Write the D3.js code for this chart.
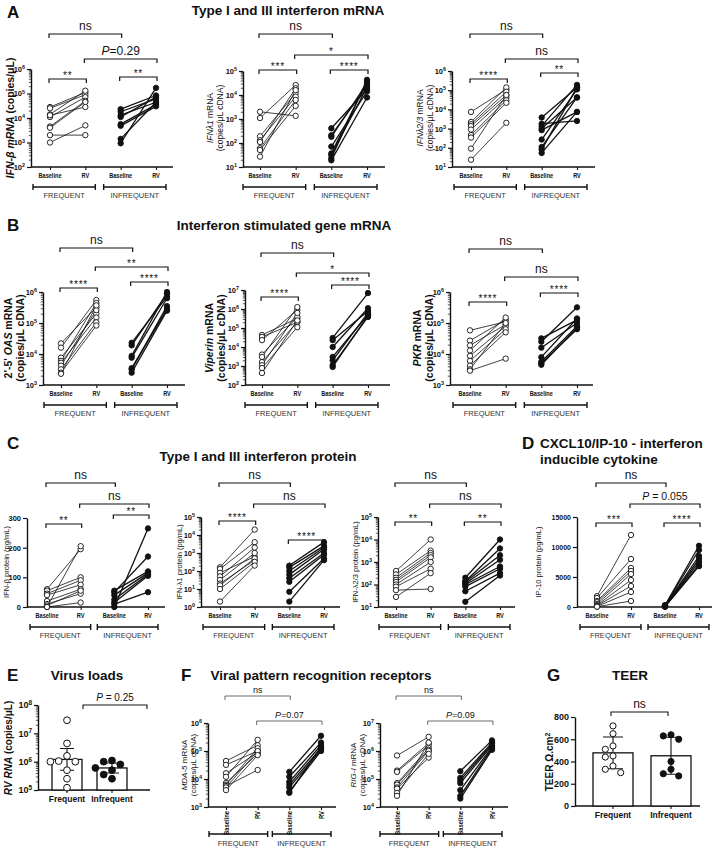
<!DOCTYPE html>
<html><head><meta charset="utf-8">
<script src="https://cdn.jsdelivr.net/npm/d3@7"></script>
<style>body{margin:0;background:#fff}svg{font-family:"Liberation Sans",Arial,sans-serif}</style>
</head><body><svg id="chart" width="716" height="851"></svg>
<script>
// ================= DATA =================
const categories = ["Baseline", "RV", "Baseline", "RV"];
const groups = ["FREQUENT", "INFREQUENT"];
const barGroups = ["Frequent", "Infrequent"];

// A: Type I and III interferon mRNA
const ifnbFB = [2.8e4, 2.5e4, 1.4e4, 1.1e4, 4.5e3, 4.0e3, 2.0e3, 1.0e3, 1.3e4];
const ifnbFR = [1.1e5, 8.9e4, 1.3e5, 7.1e4, 5.0e4, 4.5e4, 2.0e3, 5.0e3, 2.8e4];
const ifnbIB = [2.3e4, 1.8e4, 1.3e4, 1.1e4, 5.6e3, 4.8e3, 1.4e3, 9.3e2];
const ifnbIR = [8.3e4, 6.0e4, 4.4e4, 7.1e4, 3.5e4, 3.0e4, 4.4e4, 1.7e5];
const ifnl1FB = [2.0e3, 1.1e3, 190, 130, 110, 60, 51, 27];
const ifnl1FR = [1.35e3, 2.6e4, 1.2e4, 8.5e3, 1.9e4, 6.2e3, 3.5e3, 1.6e4];
const ifnl1IB = [410, 210, 180, 71, 37, 32, 23, 19];
const ifnl1IR = [1.7e4, 2.4e4, 3.1e4, 1.4e4, 3.6e4, 2.1e4, 4.3e4, 7.9e3];
const ifnl23FB = [7.4e3, 2.2e3, 1.7e3, 1.35e3, 890, 460, 340, 91, 24];
const ifnl23FR = [1.1e5, 1.4e5, 8.3e4, 5.6e4, 4.2e4, 3.0e4, 2.2e4, 5.6e4, 2.0e3];
const ifnl23IB = [3.8e3, 1.8e3, 1.35e3, 1.0e3, 830, 270, 110, 81, 54];
const ifnl23IR = [1.4e5, 2.5e3, 1.9e5, 4.2e4, 7.4e3, 1.1e5, 4.2e4, 1.4e5, 7.4e3];

// B: Interferon stimulated gene mRNA
const oasFB = [2.2e4, 1.6e4, 7.6e3, 6.0e3, 5.2e3, 4.2e3, 3.2e3, 2.5e3, 2.3e3];
const oasFR = [3.2e5, 5.5e5, 2.0e5, 4.4e5, 1.5e5, 2.6e5, 1.05e5, 8.3e4, 3.7e5];
const oasIB = [2.3e4, 1.9e4, 8.7e3, 7.6e3, 3.5e3, 3.2e3, 2.5e3];
const oasIR = [7.1e5, 8.9e5, 1.0e6, 6.3e5, 2.8e5, 3.5e5, 2.5e5];
const viperinFB = [4.3e4, 3.4e4, 2.3e4, 4.0e3, 3.0e3, 1.6e3, 1.1e3, 780, 430];
const viperinFR = [3.2e5, 2.0e5, 8.9e5, 3.8e5, 1.26e6, 2.1e5, 6.2e5, 1.1e5, 2.5e5];
const viperinIB = [3.0e4, 2.3e4, 1.0e4, 3.0e3, 2.0e3, 1.1e3, 890];
const viperinIR = [6.9e6, 7.9e5, 1.1e6, 5.0e5, 6.3e5, 3.8e5, 4.5e5];
const pkrFB = [5.8e4, 2.7e4, 1.9e4, 1.3e4, 8.7e3, 6.0e3, 4.2e3, 3.2e3, 2.9e3];
const pkrFR = [1.1e5, 1.26e5, 8.9e4, 1.5e5, 7.9e4, 6.3e4, 5.0e4, 1.0e5, 7.1e3];
const pkrIB = [3.2e4, 2.5e4, 1.6e4, 7.9e3, 5.6e3, 5.0e3, 4.5e3];
const pkrIR = [1.26e5, 3.2e5, 1.0e5, 1.4e5, 7.9e4, 6.3e4, 7.1e4];

// C: Type I and III interferon protein
const ifnbProtFB = [60, 55, 45, 40, 20, 10, 5, 0, 0];
const ifnbProtFR = [195, 100, 90, 75, 60, 45, 55, 15, 205];
const ifnbProtIB = [55, 50, 40, 25, 15, 10, 0];
const ifnbProtIR = [120, 170, 115, 110, 105, 50, 265];
const ifnl1ProtFB = [160, 130, 79, 50, 32, 20, 16, 10, 2];
const ifnl1ProtFR = [2.0e4, 4.0e3, 630, 2.0e3, 1.0e3, 400, 500, 320, 200];
const ifnl1ProtIB = [200, 160, 100, 63, 40, 25, 7, 2];
const ifnl1ProtIR = [4.0e3, 2.5e3, 2.0e3, 1.6e3, 1.0e3, 800, 500, 400];
const ifnl23ProtFB = [400, 280, 200, 160, 130, 100, 80, 56, 28];
const ifnl23ProtFR = [1.0e4, 3.2e3, 2.5e3, 2.0e3, 1.6e3, 1.0e3, 500, 63, 320];
const ifnl23ProtIB = [200, 140, 130, 110, 100, 80, 50, 17];
const ifnl23ProtIR = [1.0e4, 4.0e3, 2.0e3, 1.26e3, 630, 500, 320, 250];
const c1Ticks = [0, 100, 200, 300];

// D: CXCL10/IP-10
const ip10FB = [1800, 1500, 1000, 800, 500, 300, 200, 100, 50];
const ip10FR = [12000, 8000, 6500, 6000, 5500, 4500, 3500, 2500, 1000];
const ip10IB = [300, 250, 200, 150, 100, 80, 50];
const ip10IR = [10200, 9500, 8500, 8000, 7500, 7000, 6800];
const dTicks = [0, 5000, 10000, 15000];

// E: Virus loads
const rvFrequent = [2.9e7, 4.4e6, 1.6e6, 1.05e6, 1.0e6, 1.0e6, 5.0e5, 2.5e5, 1.2e5];
const rvInfrequent = [1.1e6, 1.0e6, 8.0e5, 6.0e5, 5.0e5, 3.5e5, 2.5e5];
const rvBarMean = [1.2e6, 6.0e5];
const rvBarHi = [2.9e6, 9.0e5];
const rvBarLo = [5.0e5, 4.0e5];

// F: Viral pattern recognition receptors
const mda5FB = [4.4e4, 3.2e4, 1.6e4, 1.2e4, 7.2e3, 6.2e3, 5.6e3, 5.0e3, 4.0e3];
const mda5FR = [1.6e5, 1.0e5, 8.9e4, 2.5e5, 7.9e4, 1.26e5, 2.1e4, 1.0e5, 7.1e4];
const mda5IB = [1.8e4, 1.2e4, 7.9e3, 6.3e3, 5.0e3, 3.5e3, 3.2e3];
const mda5IR = [3.5e5, 2.0e5, 1.6e5, 1.26e5, 1.1e5, 1.0e5, 1.4e5];
const rigiFB = [6.9e5, 2.0e5, 1.8e5, 7.1e4, 6.3e4, 5.0e4, 4.5e4, 3.2e4, 2.5e4];
const rigiFR = [3.2e6, 1.9e6, 1.6e6, 1.26e6, 1.1e6, 1.0e6, 5.8e5, 7.9e5, 2.0e6];
const rigiIB = [1.9e5, 1.1e5, 8.9e4, 7.1e4, 4.0e4, 2.5e4, 2.0e4];
const rigiIR = [2.4e6, 2.0e6, 1.8e6, 1.6e6, 1.4e6, 1.26e6, 1.1e6];

// G: TEER
const teerFrequent = [720, 650, 510, 540, 450, 440, 360, 330, 300];
const teerInfrequent = [600, 630, 640, 400, 330, 290, 270];
const gTicks = [0, 200, 400, 600, 800];

// ================= DRAWING =================
const svg = d3.select("#chart");
const INK = "#111";

function txt(g, x, y, s, o = {}) {
  const t = g.append("text").attr("x", x).attr("y", y).text(s)
    .attr("font-size", o.size || 10).attr("font-weight", o.bold ? "bold" : "normal")
    .attr("text-anchor", o.anchor || "start").attr("fill", o.fill || INK);
  if (o.italic) t.attr("font-style", "italic");
  return t;
}
function rich(g, x, y, segs, o) {
  const t = g.append("text").attr("x", x).attr("y", y).attr("font-size", o.size)
    .attr("font-weight", o.bold ? "bold" : "normal").attr("text-anchor", o.anchor || "middle").attr("fill", o.fill || INK);
  segs.forEach(([s, it, sup]) => {
    const ts = t.append("tspan").text(s);
    if (it) ts.attr("font-style", "italic");
    if (sup) ts.attr("dy", "-0.45em").attr("font-size", "0.7em");
  });
  return t;
}
function rotLabel(g, cx, cy, lines, o) {
  const gg = g.append("g").attr("transform", `translate(${cx},${cy}) rotate(-90)`);
  lines.forEach((segs, i) => rich(gg, 0, i * (o.lh || 10), segs, o));
}
function bracket(g, x1, x2, y, label, o) {
  g.append("path").attr("d", `M${x1},${y + (o.tick || 4)}V${y}H${x2}V${y + (o.tick || 4)}`)
    .attr("fill", "none").attr("stroke", o.stroke || INK).attr("stroke-width", o.sw || 1.2);
  const t = g.append("text").attr("x", (x1 + x2) / 2).attr("y", y - o.gap).attr("text-anchor", "middle")
    .attr("font-size", o.size).attr("fill", INK);
  if (o.ls) t.attr("letter-spacing", o.ls);
  if (label.startsWith("P")) {
    t.append("tspan").attr("font-style", "italic").text("P");
    t.append("tspan").text(label.slice(1));
  } else t.text(label);
}
const BIG = { size: 12, gap: 4 };
const STAR = { size: 10, gap: 0.5, ls: 0.8 };

function yAxis(g, L, y) {
  if (L.log) {
    const lo = Math.round(Math.log10(L.domain[0])), hi = Math.round(Math.log10(L.domain[1]));
    const minors = [];
    for (let k = lo; k < hi; k++) for (let m = 2; m <= 9; m++) minors.push(m * Math.pow(10, k));
    g.append("g").attr("transform", `translate(${L.ax},0)`)
      .call(d3.axisLeft(y).tickValues(minors).tickSize(2.2).tickSizeOuter(0).tickFormat(() => ""))
      .call(s => s.select(".domain").remove())
      .selectAll(".tick line").attr("stroke", INK).attr("stroke-width", 0.7);
  }
  const majors = L.log ? d3.range(Math.round(Math.log10(L.domain[0])), Math.round(Math.log10(L.domain[1])) + 1).map(k => Math.pow(10, k)) : L.ticks;
  const ax = d3.axisLeft(y).tickValues(majors).tickSize(4).tickSizeOuter(0).tickPadding(2)
    .tickFormat(L.log ? () => "" : d => String(d));
  const ga = g.append("g").attr("transform", `translate(${L.ax},0)`).call(ax);
  ga.select(".domain").attr("stroke", INK).attr("stroke-width", 1.4);
  ga.selectAll(".tick line").attr("stroke", INK).attr("stroke-width", 1.2);
  ga.selectAll(".tick text").attr("font-size", L.tickSize || 7.5).attr("font-weight", "bold")
    .attr("font-family", '"Liberation Sans",Arial,sans-serif').attr("fill", INK);
  if (L.log) ga.selectAll(".tick text").each(function (d) {
    const t = d3.select(this); t.text("10");
    t.append("tspan").attr("dy", "-0.5em").attr("font-size", "0.72em").text(Math.round(Math.log10(d)));
  });
}

function pairedPanel(L, D) {
  const g = svg.append("g");
  const x = d3.scalePoint().domain(d3.range(4)).range([L.p0, L.p3]);
  const y = (L.log ? d3.scaleLog() : d3.scaleLinear()).domain(L.domain).range([L.yb, L.yt]);
  yAxis(g, L, y);
  g.append("line").attr("x1", L.ax).attr("x2", L.xe).attr("y1", L.yb).attr("y2", L.yb)
    .attr("stroke", INK).attr("stroke-width", 1.4);
  g.append("g").attr("transform", `translate(0,${L.yb})`)
    .call(d3.axisBottom(x).tickSize(3).tickSizeOuter(0).tickFormat(() => ""))
    .call(s => s.select(".domain").remove())
    .selectAll(".tick line").attr("stroke", INK).attr("stroke-width", 1.1);
  d3.range(4).forEach(i => {
    if (L.rot) {
      g.append("text").attr("transform", `translate(${x(i) + 2.5},${L.yb + 4}) rotate(-90) scale(0.78,1)`)
        .attr("text-anchor", "end").attr("font-size", 7.5).attr("font-weight", "bold").attr("fill", INK).text(categories[i]);
    } else {
      g.append("text").attr("transform", `translate(${x(i)},${L.yb + 11}) scale(0.75,1)`)
        .attr("text-anchor", "middle").attr("font-size", 7.5).attr("font-weight", "bold").attr("fill", INK).text(categories[i]);
    }
  });
  const bdy = L.rot ? 27 : 20, ldy = L.rot ? 39 : 31;
  [[0, 1], [2, 3]].forEach(([a, b], gi) => {
    const x1 = x(a) - 17, x2 = x(b) + 10, yy = L.yb + bdy;
    g.append("path").attr("d", `M${x1},${yy - 3}V${yy + 3}M${x1},${yy}H${x2}M${x2},${yy - 3}V${yy + 3}`)
      .attr("stroke", INK).attr("stroke-width", 1.4).attr("fill", "none");
    txt(g, (x1 + x2) / 2, L.yb + ldy, groups[gi], { size: 7.5, anchor: "middle", fill: "#333" });
  });
  const sets = [[0, 1, D.fb, D.fr, false], [2, 3, D.ib, D.ir, true]];
  sets.forEach(([i0, i1, a, b, filled]) => {
    g.append("g").selectAll("line").data(d3.range(a.length)).join("line")
      .attr("x1", x(i0)).attr("x2", x(i1)).attr("y1", k => y(a[k])).attr("y2", k => y(b[k]))
      .attr("stroke", INK).attr("stroke-width", filled ? 1.3 : 0.8);
  });
  sets.forEach(([i0, i1, a, b, filled]) => {
    [[i0, a], [i1, b]].forEach(([ci, arr]) => {
      g.append("g").selectAll("circle").data(arr).join("circle")
        .attr("cx", x(ci)).attr("cy", v => y(v)).attr("r", 2.7)
        .attr("fill", filled ? INK : "#fff").attr("stroke", INK).attr("stroke-width", 0.9);
    });
  });
  L.brackets.forEach(([i, j, yy, lab, st]) => bracket(g, x(i) - 1, x(j) + 1, yy, lab, st));
  rotLabel(g, L.lab.x, L.lab.y, L.lab.lines, L.lab.o);
}

const FB = { size: 9, gap: 3, sw: 0.8, stroke: "#444" };
const lab2 = (x, y, name, o) => ({ x, y, lines: [[[name, true], [" mRNA", false]], [["(copies/μL cDNA)", false]]], o });
const A_LAB = { size: 8.5, lh: 9.5 };
const B_LAB = { size: 10.5, lh: 12, bold: true };
const C_LAB = { size: 7.5, lh: 9 };
const F_LAB = { size: 8, lh: 9 };

// ---- Panel A ----
pairedPanel({ ax: 31, p0: 50, p3: 156, xe: 173, yb: 167, yt: 69, log: true, domain: [1e2, 1e6],
  brackets: [[0, 2, 34, "ns", BIG], [1, 3, 59, "P=0.29", BIG], [0, 1, 79, "**", STAR], [2, 3, 77, "**", STAR]],
  lab: { x: 14, y: 118, lines: [[["IFN-β mRNA", true], [" (copies/μL)", false]]], o: { size: 10.5, bold: true } } },
  { fb: ifnbFB, fr: ifnbFR, ib: ifnbIB, ir: ifnbIR });
pairedPanel({ ax: 243, p0: 260, p3: 367, xe: 385, yb: 167, yt: 71, log: true, domain: [1e1, 1e5],
  brackets: [[0, 2, 34, "ns", BIG], [1, 3, 55, "*", STAR], [0, 1, 70, "***", STAR], [2, 3, 70, "****", STAR]],
  lab: lab2(213, 118, "IFNλ1", A_LAB) },
  { fb: ifnl1FB, fr: ifnl1FR, ib: ifnl1IB, ir: ifnl1IR });
pairedPanel({ ax: 452, p0: 471, p3: 577, xe: 595, yb: 167, yt: 71, log: true, domain: [1e1, 1e6],
  brackets: [[0, 2, 34, "ns", BIG], [1, 3, 59, "ns", BIG], [0, 1, 79, "****", STAR], [2, 3, 73, "**", STAR]],
  lab: lab2(423, 118, "IFNλ2/3", A_LAB) },
  { fb: ifnl23FB, fr: ifnl23FR, ib: ifnl23IB, ir: ifnl23IR });

// ---- Panel B ----
pairedPanel({ ax: 43, p0: 61, p3: 167, xe: 185, yb: 385, yt: 292, log: true, domain: [1e3, 1e6],
  brackets: [[0, 2, 248, "ns", BIG], [1, 3, 267, "**", STAR], [0, 1, 288, "****", STAR], [2, 3, 282, "****", STAR]],
  lab: { x: 12, y: 338, lines: [[["2'-5' ", false], ["OAS", true], [" mRNA", false]], [["(copies/μL cDNA)", false]]], o: B_LAB } },
  { fb: oasFB, fr: oasFR, ib: oasIB, ir: oasIR });
pairedPanel({ ax: 245, p0: 262, p3: 368, xe: 390, yb: 385, yt: 290, log: true, domain: [1e2, 1e7],
  brackets: [[0, 2, 253, "ns", BIG], [1, 3, 273, "*", STAR], [0, 1, 297, "****", STAR], [2, 3, 285, "****", STAR]],
  lab: lab2(213, 338, "Viperin", B_LAB) },
  { fb: viperinFB, fr: viperinFR, ib: viperinIB, ir: viperinIR });
pairedPanel({ ax: 450, p0: 470, p3: 577, xe: 593, yb: 385, yt: 292, log: true, domain: [1e3, 1e6],
  brackets: [[0, 2, 249, "ns", BIG], [1, 3, 277, "ns", BIG], [0, 1, 302, "****", STAR], [2, 3, 293, "****", STAR]],
  lab: lab2(421, 338, "PKR", B_LAB) },
  { fb: pkrFB, fr: pkrFR, ib: pkrIB, ir: pkrIR });

// ---- Panel C ----
pairedPanel({ ax: 27, p0: 47, p3: 148, xe: 165, yb: 607, yt: 518, log: false, domain: [0, 300], ticks: c1Ticks,
  brackets: [[0, 2, 483, "ns", BIG], [1, 3, 504, "ns", BIG], [0, 1, 524, "**", STAR], [2, 3, 515, "**", STAR]],
  lab: { x: 9, y: 562, lines: [[["IFN-β protein (pg/mL)", false]]], o: C_LAB } },
  { fb: ifnbProtFB, fr: ifnbProtFR, ib: ifnbProtIB, ir: ifnbProtIR });
pairedPanel({ ax: 201, p0: 220, p3: 324, xe: 340, yb: 607, yt: 517, log: true, domain: [1e0, 1e5],
  brackets: [[0, 2, 483, "ns", BIG], [1, 3, 504, "ns", BIG], [0, 1, 521, "****", STAR], [2, 3, 540, "****", STAR]],
  lab: { x: 182, y: 562, lines: [[["IFN-λ1 protein (pg/mL)", false]]], o: C_LAB } },
  { fb: ifnl1ProtFB, fr: ifnl1ProtFR, ib: ifnl1ProtIB, ir: ifnl1ProtIR });
pairedPanel({ ax: 378, p0: 396, p3: 500, xe: 515, yb: 607, yt: 517, log: true, domain: [1e1, 1e5],
  brackets: [[0, 2, 483, "ns", BIG], [1, 3, 504, "ns", BIG], [0, 1, 522, "**", STAR], [2, 3, 522, "**", STAR]],
  lab: { x: 358, y: 562, lines: [[["IFN-λ2/3 protein (pg/mL)", false]]], o: C_LAB } },
  { fb: ifnl23ProtFB, fr: ifnl23ProtFR, ib: ifnl23ProtIB, ir: ifnl23ProtIR });

// ---- Panel D ----
pairedPanel({ ax: 577, p0: 597, p3: 699, xe: 712, yb: 607, yt: 517, log: false, domain: [0, 15000], ticks: dTicks, tickSize: 7,
  brackets: [[0, 2, 483, "ns", BIG], [1, 3, 504, "P = 0.055", { size: 10.5, gap: 4 }], [0, 1, 523, "***", STAR], [2, 3, 523, "****", STAR]],
  lab: { x: 541, y: 562, lines: [[["IP-10 protein (pg/mL)", false]]], o: C_LAB } },
  { fb: ip10FB, fr: ip10FR, ib: ip10IB, ir: ip10IR });

// ---- Panel F ----
pairedPanel({ ax: 208, p0: 226, p3: 321, xe: 336, yb: 807, yt: 723, log: true, domain: [1e3, 1e6], rot: true,
  brackets: [[0, 2, 696, "ns", FB], [1, 3, 721, "P=0.07", FB]],
  lab: lab2(187, 765, "MDA-5", F_LAB) },
  { fb: mda5FB, fr: mda5FR, ib: mda5IB, ir: mda5IR });
pairedPanel({ ax: 380, p0: 397, p3: 492, xe: 508, yb: 807, yt: 723, log: true, domain: [1e4, 1e7], rot: true,
  brackets: [[0, 2, 696, "ns", FB], [1, 3, 721, "P=0.09", FB]],
  lab: lab2(356, 765, "RIG-I", F_LAB) },
  { fb: rigiFB, fr: rigiFR, ib: rigiIB, ir: rigiIR });

// ---- bar + scatter panels (E, G) ----
function swarm(vals, y, r) {
  const placed = [], off = new Array(vals.length);
  d3.range(vals.length).sort((a, b) => vals[b] - vals[a]).forEach(i => {
    const yi = y(vals[i]);
    for (const c of [0, -1, 1, -2, 2, -3, 3]) {
      const dx = c * (2 * r + 1.5);
      if (placed.every(p => Math.hypot(p.dx - dx, p.y - yi) >= 2 * r + 0.8)) { off[i] = dx; placed.push({ dx, y: yi }); break; }
    }
  });
  return off;
}
function barPanel(L, sets, mean, hi, lo) {
  const g = svg.append("g");
  const x = d3.scalePoint().domain(barGroups).range([L.c0, L.c1]);
  const y = (L.log ? d3.scaleLog() : d3.scaleLinear()).domain(L.domain).range([L.yb, L.yt]);
  yAxis(g, L, y);
  g.append("line").attr("x1", L.ax).attr("x2", L.xe).attr("y1", L.yb).attr("y2", L.yb).attr("stroke", INK).attr("stroke-width", 1.4);
  barGroups.forEach((k, i) => {
    const cx = x(k);
    g.append("rect").attr("x", cx - L.bw / 2).attr("width", L.bw).attr("y", y(mean[i])).attr("height", L.yb - y(mean[i]))
      .attr("fill", "#fff").attr("stroke", INK).attr("stroke-width", 1.3);
    g.append("path").attr("d", `M${cx},${y(lo[i])}V${y(hi[i])}M${cx - L.cap},${y(hi[i])}H${cx + L.cap}M${cx - L.cap},${y(lo[i])}H${cx + L.cap}`)
      .attr("stroke", INK).attr("stroke-width", 1.1).attr("fill", "none");
    const off = swarm(sets[i], y, L.r);
    g.append("g").selectAll("circle").data(sets[i]).join("circle")
      .attr("cx", (v, j) => cx + off[j]).attr("cy", v => y(v)).attr("r", L.r)
      .attr("fill", i === 0 ? "#fff" : INK).attr("stroke", INK).attr("stroke-width", 1);
    g.append("line").attr("x1", cx).attr("x2", cx).attr("y1", L.yb).attr("y2", L.yb + 3).attr("stroke", INK).attr("stroke-width", 1.1);
    txt(g, cx, L.yb + 12, k, { size: 8.5, bold: true, anchor: "middle" });
  });
  bracket(g, L.br[0], L.br[1], L.br[2], L.br[3], L.br[4]);
  rotLabel(g, L.lab.x, L.lab.y, L.lab.lines, L.lab.o);
}
barPanel({ ax: 38, xe: 150, c0: 67, c1: 112, bw: 30, cap: 7, r: 3.4, yb: 790, yt: 705, log: true, domain: [1e5, 1e8], tickSize: 9,
  br: [83, 147, 705, "P = 0.25", { size: 10, gap: 4, sw: 1.1 }],
  lab: { x: 12, y: 748, lines: [[["RV RNA", true], [" (copies/μL)", false]]], o: { size: 10, bold: true } } },
  [rvFrequent, rvInfrequent], rvBarMean, rvBarHi, rvBarLo);
const teerMean = [d3.mean(teerFrequent), d3.mean(teerInfrequent)];
const teerSd = [d3.deviation(teerFrequent), d3.deviation(teerInfrequent)];
barPanel({ ax: 575, xe: 700, c0: 613, c1: 671, bw: 40, cap: 10, r: 3.1, yb: 806, yt: 717, log: false, domain: [0, 800], ticks: gTicks, tickSize: 9,
  br: [611, 668, 712, "ns", { size: 12, gap: 4, sw: 1.1 }],
  lab: { x: 553, y: 762, lines: [[["TEER Ω.cm", false], ["2", false, true]]], o: { size: 10, bold: true } } },
  [teerFrequent, teerInfrequent], teerMean, teerMean.map((m, i) => m + teerSd[i]), teerMean.map((m, i) => m - teerSd[i]));

// ---- Panel letters and titles ----
const T = { size: 13.5, bold: true, anchor: "middle" };
const PL = { size: 17, bold: true };
txt(svg, 7, 18, "A", PL); txt(svg, 288, 15, "Type I and III interferon mRNA", T);
txt(svg, 7, 231, "B", PL); txt(svg, 284, 230, "Interferon stimulated gene mRNA", T);
txt(svg, 7, 449, "C", PL); txt(svg, 258, 461, "Type I and III interferon protein", T);
txt(svg, 522, 449, "D", PL);
txt(svg, 540, 448, "CXCL10/IP-10 - interferon", { size: 13.5, bold: true });
txt(svg, 540, 464, "inducible cytokine", { size: 13.5, bold: true });
txt(svg, 7, 681, "E", PL); txt(svg, 87, 680, "Virus loads", T);
txt(svg, 181, 681, "F", PL); txt(svg, 321, 680, "Viral pattern recognition receptors", T);
txt(svg, 547, 681, "G", PL); txt(svg, 630, 680, "TEER", T);
</script></body></html>
